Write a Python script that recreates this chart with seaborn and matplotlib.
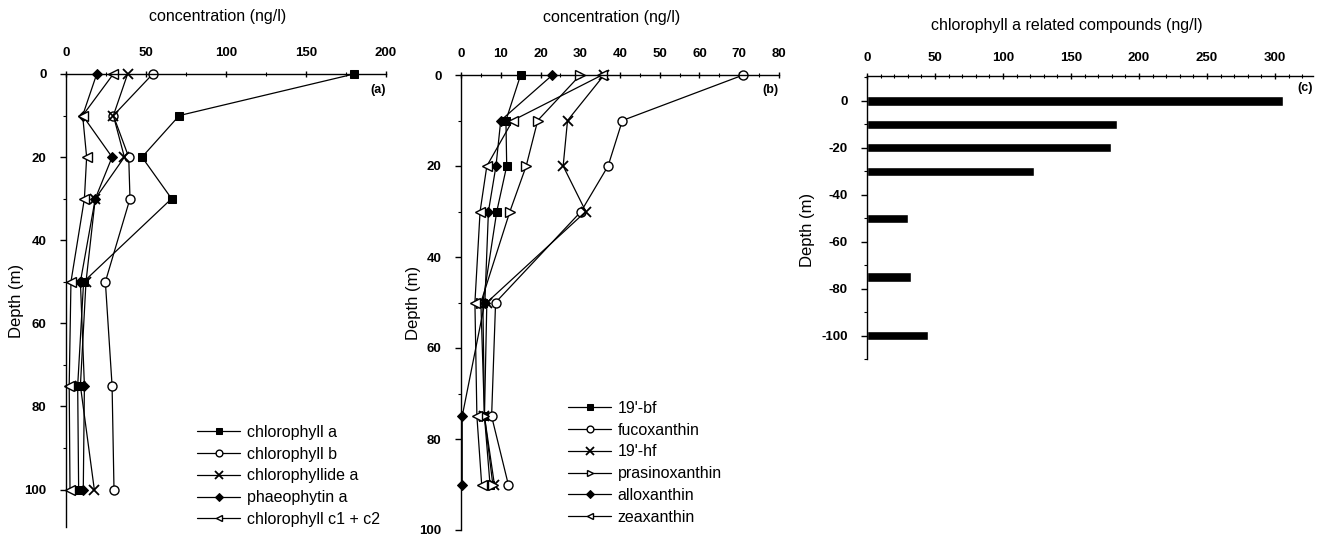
import numpy as np
import pandas as pd
import matplotlib
matplotlib.use("Agg")
import matplotlib.pyplot as plt
import seaborn as sns
from matplotlib.ticker import MultipleLocator

# ---------------- data ----------------
depths_a = [0, 10, 20, 30, 50, 75, 100]
chl_a = [180, 70.8, 47.5, 66, 11, 7.3, 7.9]
chl_b = [54.2, 29.6, 39.2, 40, 24.6, 28.8, 30]
chlide_a = [38.5, 29.6, 36.5, 18.3, 12.5, 9, 17.7]
phaeo_a = [19.2, 10.4, 28.8, 18.3, 9, 11.5, 10.8]
chl_c12 = [29.6, 10.4, 12.9, 11.5, 3.1, 2, 2.5]
names_a = ["chlorophyll a", "chlorophyll b", "chlorophyllide a",
           "phaeophytin a", "chlorophyll c1 + c2"]

depths_b = [0, 10, 20, 30, 50, 75, 90]
bf19 = [15, 11.3, 11.5, 9, 5.5, 5.9, 7.3]
fucox = [71, 40.6, 37, 30.2, 8.7, 7.7, 11.9]
hf19 = [36, 26.8, 25.7, 31.4, 6.5, 5.9, 8.4]
prasino = [30, 19.3, 16.4, 12.3, 5, 5.9, 8]
allox = [23, 10, 8.8, 6.9, 6, 0.3, 0.3]
zeax = [35.5, 13, 6.5, 4.8, 3.5, 4, 5.2]
names_b = ["19'-bf", "fucoxanthin", "19'-hf", "prasinoxanthin",
           "alloxanthin", "zeaxanthin"]

depths_c = [0, -10, -20, -30, -50, -75, -100]
chl_related = [306, 184, 179.5, 123, 30.5, 32, 44.5]

xticks_a = [0, 50, 100, 150, 200]
xticks_b = [0, 10, 20, 30, 40, 50, 60, 70, 80]
xticks_c = [0, 50, 100, 150, 200, 250, 300]
yticks_ab = [0, 20, 40, 60, 80, 100]
yticks_c = [0, -20, -40, -60, -80, -100]

# ---------------- style ----------------
sns.set_style("ticks")
plt.rcParams['font.family'] = ['Liberation Sans', 'DejaVu Sans']
plt.rcParams['axes.linewidth'] = 1.0
for k in ['text.color', 'axes.labelcolor', 'xtick.color', 'ytick.color', 'axes.edgecolor']:
    plt.rcParams[k] = 'black'

fig = plt.figure(figsize=(13.3, 5.38), dpi=100)
W, H = 1330, 538


def px_axes(l, r, t, b):
    return fig.add_axes([l / W, 1 - b / H, (r - l) / W, (b - t) / H])


ax_a = px_axes(66, 386, 74, 527)
ax_b = px_axes(461, 779, 75, 530)
ax_c = px_axes(867, 1313, 76, 359)

marker_kw = {
    's': dict(marker='s', markersize=6, markerfacecolor='black', markeredgecolor='black'),
    'o': dict(marker='o', markersize=6.5, markerfacecolor='white', markeredgecolor='black', markeredgewidth=1.0),
    'x': dict(marker='x', markersize=7, markeredgecolor='black', markeredgewidth=1.3),
    'D': dict(marker='D', markersize=5.5, markerfacecolor='black', markeredgecolor='black'),
    '<': dict(marker='<', markersize=6.5, markerfacecolor='white', markeredgecolor='black', markeredgewidth=1.0),
    '>': dict(marker='>', markersize=6.5, markerfacecolor='white', markeredgecolor='black', markeredgewidth=1.0),
}


def profile(ax, vals, depths, mk, label):
    sns.lineplot(x=vals, y=depths, orient='y', sort=False, estimator=None,
                 color='black', linewidth=0.9, ax=ax, label=label,
                 **marker_kw[mk])


series_a = [chl_a, chl_b, chlide_a, phaeo_a, chl_c12]
markers_a = ['s', 'o', 'x', 'D', '<']
for vals, mk, nm in zip(series_a, markers_a, names_a):
    profile(ax_a, vals, depths_a, mk, nm)

series_b = [bf19, fucox, hf19, prasino, allox, zeax]
markers_b = ['s', 'o', 'x', '>', 'D', '<']
for vals, mk, nm in zip(series_b, markers_b, names_b):
    profile(ax_b, vals, depths_b, mk, nm)

df_c = pd.DataFrame({"depth": depths_c, "value": chl_related})
sns.barplot(data=df_c, x="value", y="depth", orient='h', native_scale=True,
            color='black', width=0.4, ax=ax_c, saturation=1)

tick_font = dict(fontsize=9.5, fontweight='bold')


def style_axes(ax):
    ax.xaxis.tick_top()
    ax.xaxis.set_label_position('top')
    for s in ['right', 'bottom']:
        ax.spines[s].set_visible(False)
    for s in ['top', 'left']:
        ax.spines[s].set_color('black')
    ax.tick_params(axis='x', which='major', direction='inout', length=5, width=1, pad=8)
    ax.tick_params(axis='x', which='minor', direction='inout', length=3, width=0.8)
    ax.tick_params(axis='y', which='major', direction='out', length=4, width=1, pad=10)
    ax.tick_params(axis='y', which='minor', direction='out', length=2.5, width=0.8)
    ax.set_xlabel('')
    ax.set_ylabel('')
    ax.grid(False)


# panel a
style_axes(ax_a)
ax_a.set_xlim(0, 200)
ax_a.set_ylim(109, 0)
ax_a.set_xticks(xticks_a)
ax_a.set_xticklabels([str(t) for t in xticks_a], **tick_font)
ax_a.xaxis.set_minor_locator(MultipleLocator(25))
ax_a.set_yticks(yticks_ab)
ax_a.set_yticklabels([str(t) for t in yticks_ab], **tick_font)
ax_a.yaxis.set_minor_locator(MultipleLocator(10))

# panel b
style_axes(ax_b)
ax_b.set_xlim(0, 80)
ax_b.set_ylim(100, 0)
ax_b.set_xticks(xticks_b)
ax_b.set_xticklabels([str(t) for t in xticks_b], **tick_font)
ax_b.xaxis.set_minor_locator(MultipleLocator(5))
ax_b.set_yticks(yticks_ab)
ax_b.set_yticklabels([str(t) for t in yticks_ab], **tick_font)
ax_b.yaxis.set_minor_locator(MultipleLocator(10))

# panel c
style_axes(ax_c)
ax_c.set_xlim(0, 328)
ax_c.set_ylim(-110, 10.6)
ax_c.set_xticks(xticks_c)
ax_c.set_xticklabels([str(t) for t in xticks_c], **tick_font)
ax_c.xaxis.set_minor_locator(MultipleLocator(10))
ax_c.set_yticks(yticks_c)
ax_c.set_yticklabels([str(t) for t in yticks_c], **tick_font)
ax_c.yaxis.set_minor_locator(MultipleLocator(10))
ax_c.tick_params(axis='x', which='major', pad=6)

for ax in (ax_a, ax_b, ax_c):
    for ln in ax.lines:
        ln.set_clip_on(False)

# titles
ax_a.text(0.475, 1.126, "concentration (ng/l)", transform=ax_a.transAxes,
          ha='center', va='center', fontsize=11.5)
ax_b.text(0.475, 1.127, "concentration (ng/l)", transform=ax_b.transAxes,
          ha='center', va='center', fontsize=11.5)
ax_c.text(0.448, 1.18, "chlorophyll a related compounds (ng/l)",
          transform=ax_c.transAxes, ha='center', va='center', fontsize=11.5)

# panel letters
ax_a.text(1.0, 0.965, "(a)", transform=ax_a.transAxes, ha='right', va='center',
          fontsize=9, fontweight='bold')
ax_b.text(1.0, 0.968, "(b)", transform=ax_b.transAxes, ha='right', va='center',
          fontsize=9, fontweight='bold')
ax_c.text(1.0, 0.958, "(c)", transform=ax_c.transAxes, ha='right', va='center',
          fontsize=9, fontweight='bold')

# y labels
ax_a.set_ylabel("Depth (m)", fontsize=12)
ax_a.yaxis.set_label_coords(-0.13, 0.5)
ax_b.set_ylabel("Depth (m)", fontsize=12)
ax_b.yaxis.set_label_coords(-0.125, 0.5)
ax_c.set_ylabel("Depth (m)", fontsize=12)
ax_c.yaxis.set_label_coords(-0.117, 0.456)

# legends
for ax, (lx, ty) in ((ax_a, (197, 425)), (ax_b, (568, 401))):
    h, l = ax.get_legend_handles_labels()
    ax.legend(h, l, loc='upper left', bbox_to_anchor=(lx / W, 1 - ty / H),
              bbox_transform=fig.transFigure, frameon=False, fontsize=11.5,
              handlelength=2.7, handletextpad=0.4, labelspacing=0.42,
              borderpad=0, borderaxespad=0, markerscale=0.75)

fig.savefig("out.png", dpi=100)
